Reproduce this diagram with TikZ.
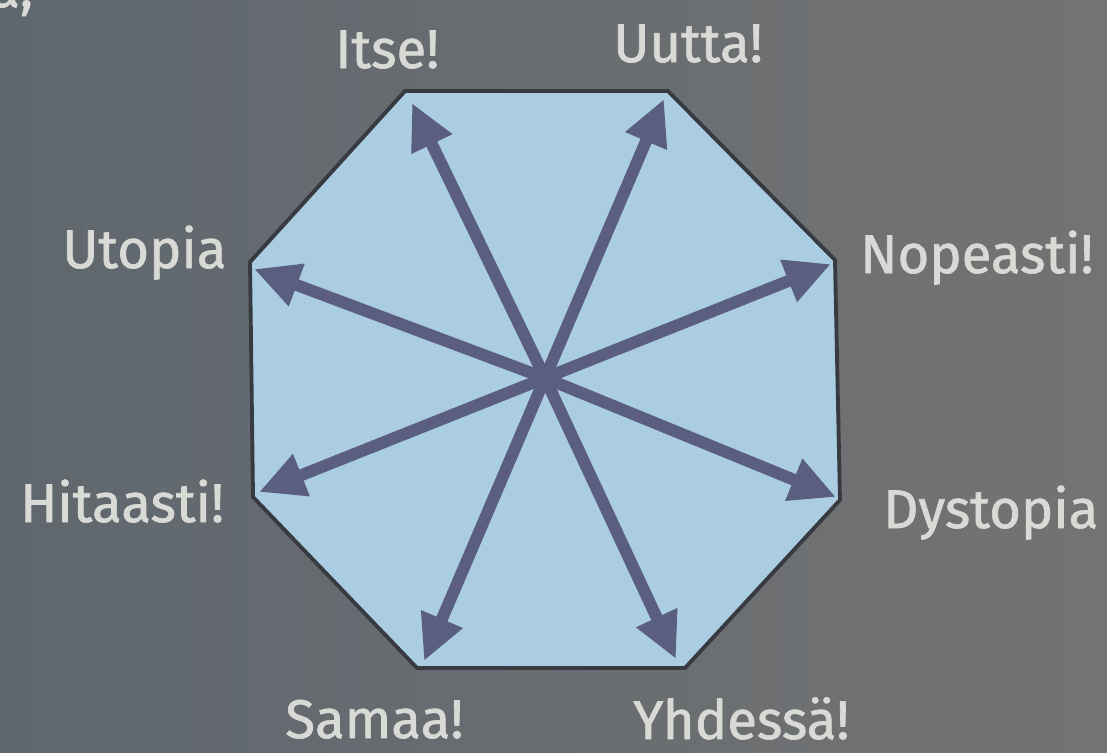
\documentclass[tikz,border=0pt]{standalone}
\usepackage{fontspec}
\setmainfont{Fira Sans}
\newfontfamily\labfont{Fira Sans}[FakeBold=1.2]
\usetikzlibrary{arrows.meta}
\definecolor{bgL}{HTML}{5F676E}
\definecolor{bgR}{HTML}{737373}
\definecolor{octfill}{HTML}{ABCDE1}
\definecolor{octline}{HTML}{373B41}
\definecolor{arr}{HTML}{5A5E80}
\definecolor{lbl}{HTML}{D9DAD6}
\begin{document}
\begin{tikzpicture}[x=0.02cm,y=-0.02cm,
  lab/.style={text=lbl, font=\labfont\fontsize{31}{36}\selectfont, inner sep=0pt, anchor=base west},
  spoke/.style={draw=arr, line width=6.8pt, -{Triangle[length=26pt,width=24pt]}},
  oct/.style={fill=octfill, draw=octline, line width=2.2pt, line join=miter}]
\useasboundingbox (0,0) rectangle (1107,752);
\clip (0,0) rectangle (1107,752);
\shade[left color=bgL, right color=bgR] (0,0) rectangle (1107,752);
% fragment of text above the picture
\node[lab] (frag) at (-10,7) {a,};
% octagon
\coordinate (v1) at (405,91);
\coordinate (v2) at (668,91);
\coordinate (v3) at (835,260);
\coordinate (v4) at (840,500);
\coordinate (v5) at (685,668);
\coordinate (v6) at (417,668);
\coordinate (v7) at (253,497);
\coordinate (v8) at (250,262);
\path[oct] (v1) -- (v2) -- (v3) -- (v4) -- (v5) -- (v6) -- (v7) -- (v8) -- cycle;
% centre and arrow tips
\coordinate (c) at (545,378);
\coordinate (tItse) at (412,103);
\coordinate (tUutta) at (664,99);
\coordinate (tUtopia) at (254,269);
\coordinate (tNopeasti) at (831,264);
\coordinate (tHitaasti) at (259,492);
\coordinate (tDystopia) at (836,497);
\coordinate (tSamaa) at (424,661);
\coordinate (tYhdessa) at (676,659);
\foreach \t in {tItse,tUutta,tUtopia,tNopeasti,tHitaasti,tDystopia,tSamaa,tYhdessa}
  \draw[spoke] (c) -- (\t);
\fill[arr] (c) circle (13);
% labels
\node[lab] (itse) at (335,68) {Itse!};
\node[lab] (uutta) at (613,62) {Uutta!};
\node[lab] (utopia) at (62,268) {Utopia};
\node[lab] (nopeasti) at (860,273) {Nopeasti!};
\node[lab] (hitaasti) at (20,522) {Hitaasti!};
\node[lab] (dystopia) at (883,528) {Dystopia};
\node[lab] (samaa) at (285,738) {Samaa!};
\node[lab] (yhdessa) at (633,739) {Yhdessä!};
\end{tikzpicture}
\end{document}
